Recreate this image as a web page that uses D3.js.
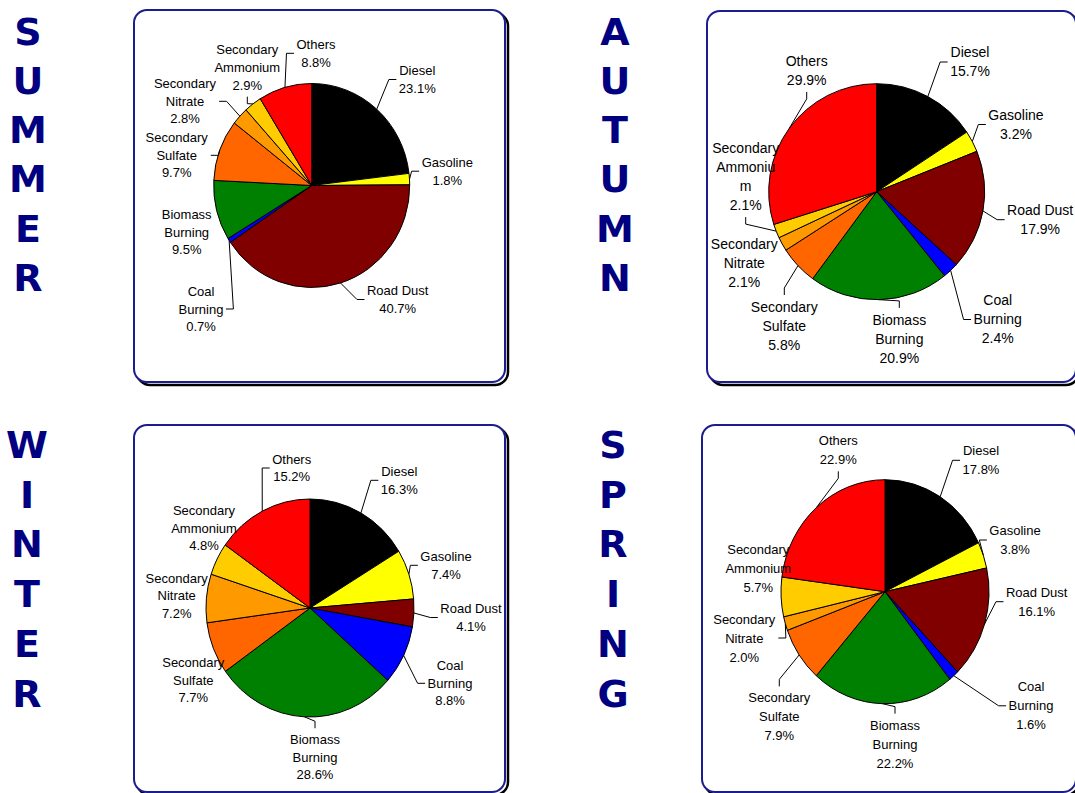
<!DOCTYPE html>
<html>
<head>
<meta charset="utf-8">
<script src="https://cdn.jsdelivr.net/npm/d3@7"></script>
<style>
  body { margin: 0; background: #fff; }
  svg { display: block; }
</style>
</head>
<body>
<svg id="chart" width="1075" height="793"></svg>
<script>
// Source categories, in slice order (clockwise from 12 o'clock)
const categories = [
  "Diesel", "Gasoline", "Road Dust", "Coal Burning", "Biomass Burning",
  "Secondary Sulfate", "Secondary Nitrate", "Secondary Ammonium", "Others"
];

// Percent contribution of each source, per season
const summerValues = [23.1, 1.8, 40.7, 0.7, 9.5, 9.7, 2.8, 2.9, 8.8];
const autumnValues = [15.7, 3.2, 17.9, 2.4, 20.9, 5.8, 2.1, 2.1, 29.9];
const winterValues = [16.3, 7.4, 4.1, 8.8, 28.6, 7.7, 7.2, 4.8, 15.2];
const springValues = [17.8, 3.8, 16.1, 1.6, 22.2, 7.9, 2.0, 5.7, 22.9];

const seasonNames = ["SUMMER", "AUTUMN", "WINTER", "SPRING"];

const sliceColors = [
  "#000000", "#FFFF00", "#800000", "#0000FF", "#008000",
  "#FF6600", "#FF9900", "#FFCC00", "#FF0000"
];

// How each category name breaks over lines in its label
const nameLines = {
  "Diesel": ["Diesel"],
  "Gasoline": ["Gasoline"],
  "Road Dust": ["Road Dust"],
  "Coal Burning": ["Coal", "Burning"],
  "Biomass Burning": ["Biomass", "Burning"],
  "Secondary Sulfate": ["Secondary", "Sulfate"],
  "Secondary Nitrate": ["Secondary", "Nitrate"],
  "Secondary Ammonium": ["Secondary", "Ammonium"],
  "Others": ["Others"]
};

// Panel layout: frame, pie centre and radii, label offsets from the pie
// centre [dx, dy, leader attach side] (l/r/t/b, or n for no leader)
const panels = [
  {
    name: seasonNames[0], values: summerValues,
    box: [134, 10, 371, 372], cx: 311.7, cy: 185.5, rx: 98, ry: 102,
    font: 13, lh: 17.6, letterX: 28, letterY0: 44.5, letterStep: 49.3,
    labels: [
      [105.6, -106, "l"], [135.6, -14.3, "l"], [86, 114, "l"],
      [-110.7, 123.5, "r"], [-125, 46.8, "n"], [-135, -30.2, "r"],
      [-126.7, -84.2, "r"], [-64.4, -118, "b"], [4.3, -132.2, "l"]
    ]
  },
  {
    name: seasonNames[1], values: autumnValues,
    box: [707, 11, 369, 371], cx: 876.7, cy: 191.7, rx: 108, ry: 108,
    font: 14, lh: 19, letterX: 615, letterY0: 44.5, letterStep: 49.3,
    wrap: { "Secondary Ammonium": ["Secondary", "Ammoniu", "m"] },
    labels: [
      [93.3, -129.7, "l"], [139.3, -67.2, "l"], [163.5, 28, "l"],
      [121, 127.8, "l"], [22.6, 147.3, "t"], [-92.4, 134.4, "t"],
      [-132.4, 71.6, "n"], [-131, -15, "b"], [-70, -121.2, "b"]
    ]
  },
  {
    name: seasonNames[2], values: winterValues,
    box: [134, 425, 371, 367], cx: 310, cy: 608, rx: 104, ry: 109,
    font: 13, lh: 17.5, letterX: 27, letterY0: 458, letterStep: 49.7,
    labels: [
      [89.3, -127.7, "l"], [136, -42.7, "l"], [161, 9.5, "l"],
      [140, 75.3, "l"], [5, 149.2, "t"], [-116.7, 72, "n"],
      [-133.3, -12.2, "n"], [-106, -79.7, "n"], [-18.3, -140, "l"]
    ]
  },
  {
    name: seasonNames[3], values: springValues,
    box: [702, 425, 374, 367], cx: 885, cy: 591.7, rx: 104, ry: 112,
    font: 13, lh: 19, letterX: 613, letterY0: 458, letterStep: 49.7,
    labels: [
      [96, -131.4, "l"], [130, -51.7, "l"], [151.7, 10, "l"],
      [146, 114.1, "l"], [10, 152.4, "t"], [-105.7, 125.1, "t"],
      [-140.7, 46.3, "r"], [-126.7, -23.5, "n"], [-46.7, -141.4, "b"]
    ]
  }
];

const svg = d3.select("#chart");
const pie = d3.pie().sort(null).value(d => d).startAngle(0).endAngle(2 * Math.PI);

panels.forEach(p => {
  const [bx, by, bw, bh] = p.box;

  // framed panel with a dark drop shadow
  svg.append("rect")
    .attr("x", bx + 3).attr("y", by + 3).attr("width", bw).attr("height", bh)
    .attr("rx", 13).attr("ry", 13)
    .attr("fill", "none").attr("stroke", "#000").attr("stroke-width", 2.5);
  svg.append("rect")
    .attr("x", bx).attr("y", by).attr("width", bw).attr("height", bh)
    .attr("rx", 13).attr("ry", 13)
    .attr("fill", "#fff").attr("stroke", "#1c1c8e").attr("stroke-width", 2);

  // season name written vertically
  svg.append("g")
    .attr("font-family", "'DejaVu Sans', Verdana, sans-serif")
    .attr("font-weight", "bold")
    .attr("font-size", 38)
    .attr("fill", "#000080")
    .attr("text-anchor", "middle")
    .selectAll("text")
    .data(p.name.split(""))
    .join("text")
    .attr("x", p.letterX)
    .attr("y", (d, i) => p.letterY0 + i * p.letterStep)
    .text(d => d);

  // pie slices (elliptical: drawn on a circle, then stretched vertically)
  const arcs = pie(p.values);
  const arc = d3.arc().innerRadius(0).outerRadius(p.rx);
  svg.append("g")
    .attr("transform", `translate(${p.cx},${p.cy}) scale(1,${p.ry / p.rx})`)
    .selectAll("path")
    .data(arcs)
    .join("path")
    .attr("d", arc)
    .attr("fill", (d, i) => sliceColors[i])
    .attr("stroke", "#000")
    .attr("stroke-width", 1)
    .attr("vector-effect", "non-scaling-stroke");

  // data labels with elbow leader lines
  const leaders = svg.append("g")
    .attr("fill", "none").attr("stroke", "#000").attr("stroke-width", 1);
  const lg = svg.append("g")
    .attr("font-family", "'Liberation Sans', Arial, sans-serif")
    .attr("font-size", p.font)
    .attr("fill", "#000")
    .attr("text-anchor", "middle");

  arcs.forEach((a, i) => {
    const [dx, dy, attach] = p.labels[i];
    const cat = categories[i];
    const lines = [...((p.wrap && p.wrap[cat]) || nameLines[cat]), a.data.toFixed(1) + "%"];
    const x = p.cx + dx, my = p.cy + dy;
    const y0 = my - (lines.length - 1) * p.lh / 2;
    const t = lg.append("text");
    lines.forEach((s, k) => {
      t.append("tspan").attr("x", x).attr("y", y0 + k * p.lh).attr("dy", "0.35em").text(s);
    });
    if (attach === "n") return;

    const bb = t.node().getBBox();
    const mid = (a.startAngle + a.endAngle) / 2;
    const sx = p.cx + p.rx * Math.sin(mid);
    const sy = p.cy - p.ry * Math.cos(mid);
    let ex, ey, kx, ky;
    if (attach === "l") { ex = bb.x - 2.5; ey = my; kx = bb.x - 10; ky = my; }
    else if (attach === "r") { ex = bb.x + bb.width + 2.5; ey = my; kx = bb.x + bb.width + 10; ky = my; }
    else if (attach === "t") { ex = x; ey = bb.y - 4; kx = x; ky = bb.y - 11; }
    else { ex = x; ey = bb.y + bb.height + 4; kx = x; ky = bb.y + bb.height + 11; }
    leaders.append("path").attr("d", d3.line()([[sx, sy], [kx, ky], [ex, ey]]));
  });
});
</script>
</body>
</html>
